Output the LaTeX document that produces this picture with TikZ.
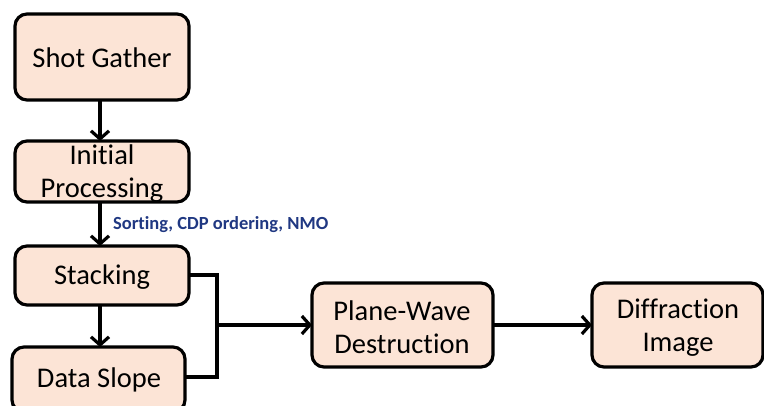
\documentclass[tikz,border=0pt]{standalone}
\usepackage{fontspec}
\setmainfont[Ligatures={NoCommon}]{Carlito}
\usetikzlibrary{arrows.meta}
\definecolor{boxfill}{RGB}{252,228,214}
\definecolor{notecol}{RGB}{32,56,130}
\begin{document}
\begin{tikzpicture}[x=1pt,y=-1pt,
  stepbox/.style={draw=black,line width=3.2pt,fill=boxfill,rounded corners=12pt},
  lbl/.style={font=\fontsize{28.5}{33}\selectfont,align=center,inner sep=0pt},
  conn/.style={line width=3.2pt,-{Straight Barb[length=8pt,width=18pt]}},
  plain/.style={line width=3.2pt}]
\useasboundingbox (0,0) rectangle (764,405);
\begin{scope}
\clip (0,0) rectangle (764,405);
% boxes
\draw[stepbox] (15,14) rectangle (189,100);
\node[lbl] (shot) at (102,58) {Shot Gather};
\draw[stepbox] (15,141) rectangle (189,202);
\node[lbl] (init) at (102,174) {Initial\\Processing};
\draw[stepbox] (15,246) rectangle (189,305);
\node[lbl] (stack) at (102,277) {Stacking};
\draw[stepbox] (12,347) rectangle (185,412);
\node[lbl] (slope) at (99,380) {Data Slope};
\draw[stepbox] (312,283) rectangle (493,367);
\node[lbl] (pwd) at (402,327) {Plane-Wave\\Destruction};
\draw[stepbox] (592,283) rectangle (763,367);
\node[lbl] (diff) at (678,327.5) {Diffraction\\Image};
% named anchor points on the box edges
\coordinate (shotS) at (100,100);
\coordinate (initN) at (100,141);
\coordinate (initS) at (100,202);
\coordinate (stackN) at (100,246);
\coordinate (stackS) at (100,305);
\coordinate (slopeN) at (100,347);
\coordinate (stackE) at (189,275);
\coordinate (slopeE) at (185,377);
\coordinate (join) at (217,325);
\coordinate (pwdW) at (312,325);
\coordinate (pwdE) at (493,325);
\coordinate (diffW) at (592,325);
% connectors
\draw[conn] (shotS) -- (initN);
\draw[conn] (initS) -- (stackN);
\draw[conn] (stackS) -- (slopeN);
\draw[plain] (stackE) -| (join) |- (slopeE);
\draw[conn] (join) -- (pwdW);
\draw[conn] (pwdE) -- (diffW);
\node[font=\fontsize{18.5}{20}\bfseries\selectfont,text=notecol,anchor=west,inner sep=0pt] (note) at (113,225) {Sorting, CDP ordering, NMO};
\end{scope}
\end{tikzpicture}
\end{document}
